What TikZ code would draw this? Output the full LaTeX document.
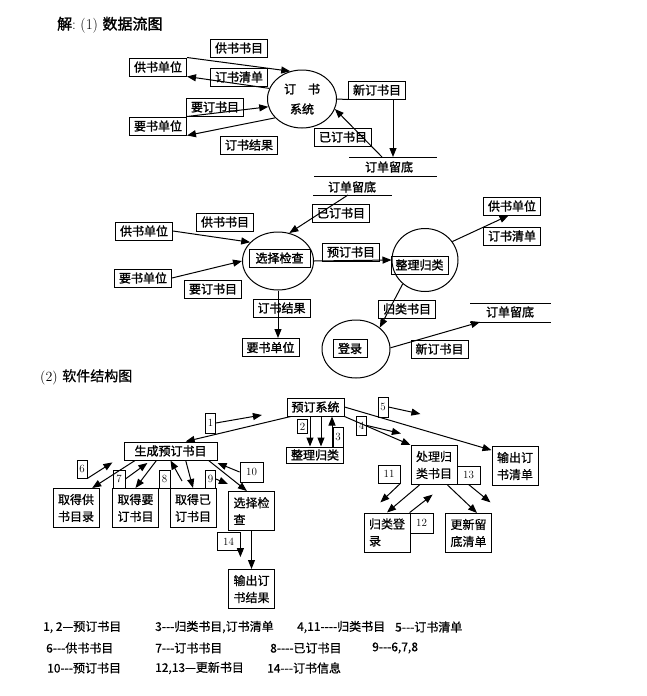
\documentclass[tikz,border=0pt]{standalone}
\usepackage{fontspec}
\newfontfamily\cjk{Noto Sans CJK SC}[RawFeature={embolden=1.6}]
\newfontfamily\cjklight{Noto Sans CJK SC}[RawFeature={embolden=0.6}]
\usetikzlibrary{shapes.geometric,arrows.meta}

\tikzset{
  box/.style={draw,line width=1pt,inner xsep=4.5pt,inner ysep=2pt,minimum height=18pt,font=\cjk\fontsize{12}{14}\selectfont},
  proc/.style={draw,ellipse,line width=1pt,inner sep=0pt,font=\cjk\fontsize{12}{20}\selectfont},
  modbox/.style={draw,line width=1pt,align=left,text width=36pt,inner xsep=5pt,inner ysep=2pt,minimum height=39pt,font=\cjklight\fontsize{12}{17}\selectfont},
  num/.style={draw,line width=0.8pt,inner sep=1pt,minimum width=10pt,minimum height=18pt,font=\fontsize{11}{12}\selectfont},
  flow/.style={line width=1pt,-{Triangle[length=9pt,width=7pt]}},
  storeline/.style={line width=1pt},
  storetext/.style={inner sep=1pt,font=\cjk\fontsize{12}{14}\selectfont},
  legend/.style={anchor=west,inner sep=0pt,font=\cjklight\fontsize{12}{14}\selectfont}
}

\begin{document}
\begin{tikzpicture}[x=1pt,y=-1pt]
\path[fill=white,use as bounding box] (0,0) rectangle (646,696);

\node[anchor=west,inner sep=0pt,font=\fontsize{15}{17}\selectfont] (t1) at (57,25) {{\cjk 解}:\ (1)\ {\cjk 数据流图}};

\node[box] (s1) at (239,48) {供书书目};
\node[box] (u1) at (158,67) {供书单位};
\node[box] (q1) at (239,77) {订书清单};
\node[proc,minimum width=69pt,minimum height=58pt,align=center] (p1) at (302,99) {订\hspace{1em}书\\系统};
\node[box] (n1) at (377,90) {新订书目};
\node[box] (y1) at (215,107) {要订书目};
\node[box] (r1) at (158,126) {要书单位};
\node[box] (j1) at (249,145) {订书结果};
\node[box] (k1) at (343,137) {已订书目};
\node[storetext] (st1) at (389,167) {订单留底};
\draw[storeline] (349,157) -- (437,157) (314,176) -- (437,176);
\coordinate (st1in) at (393,157);
\coordinate (st1out) at (382,157);

\draw[flow] (u1.north east) -- (p1.113);
\draw[flow] (p1.162) -- (u1.south east);
\draw[flow] (r1.north east) -- (p1.193);
\draw[flow] (p1.215) -- (r1.south east);
\draw[line width=1pt] (p1.east) -- (n1.south west);
\draw[flow] (n1.south -| st1in) -- (st1in);
\draw[flow] (st1out) -- (p1.343);

\node[storetext] (st2) at (352,187) {订单留底};
\draw[storeline] (313,195) -- (392,195);
\coordinate (st2out) at (348,195);
\node[box] (k2) at (341,213) {已订书目};
\node[proc,minimum width=71pt,minimum height=58pt] (p2) at (278,261) {};
\node[box,minimum width=61pt] (p2t) at (279.5,258) {选择检查};
\node[box] (u2) at (144,231) {供书单位};
\node[box] (s2) at (225,222) {供书书目};
\node[box] (r2) at (143,278) {要书单位};
\node[box] (y2) at (213,289) {要订书目};
\node[box] (b2) at (351,252) {预订书目};
\node[proc,minimum width=66pt,minimum height=63pt] (p3) at (425,260) {};
\node[box,minimum width=55pt] (p3t) at (419.5,265) {整理归类};
\node[box] (u3) at (512,206) {供书单位};
\node[box] (q3) at (512,236) {订书清单};
\node[box] (j2) at (281.5,308) {订书结果};
\node[box] (r4) at (270.5,347.5) {要书单位};
\node[box] (g2) at (407,309) {归类书目};
\node[proc,minimum width=68pt,minimum height=58pt] (p4) at (356,349) {};
\node[box,minimum width=34pt] (p4t) at (350,348.5) {登录};
\node[storetext] (st3) at (510,312) {订单留底};
\draw[storeline] (470,303) -- (551,303) (470,322) -- (551,322);
\coordinate (st3in) at (480,322);
\node[box] (n4) at (439.5,349) {新订书目};

\draw[flow] (st2out) -- (p2.68);
\draw[flow] (u2.east) -- (p2.146);
\draw[flow] (r2.east) -- (p2.west);
\draw[flow] (p2.east) -- (p3.west);
\draw[flow] (p3.34) -- (u3.250);
\draw[flow] (p2.south) -- (p2.south |- r4.north);
\draw[flow] (p3.227) -- (p4.42);
\draw[flow] (p4.2) -- (st3in);

\node[anchor=west,inner sep=0pt,font=\fontsize{14}{16}\selectfont] (t2) at (40,377) {(2)\ {\cjklight 软件结构图}};

\node[box] (m0) at (315.5,407) {预订系统};
\node[box,minimum height=16pt] (m1) at (315,455) {整理归类};
\node[num,minimum height=14pt] (l2) at (302.5,426.5) {2};
\node[num,minimum height=20pt] (l3) at (338,437) {3};
\node[box,minimum width=93pt] (m2) at (170.5,451) {生成预订书目};
\node[num,minimum height=20pt] (l1) at (210.5,423) {1};
\node[num,minimum height=20pt] (l5) at (383,407) {5};
\node[num,minimum height=19pt] (l4) at (361.5,425.5) {4};
\node[modbox] (m3) at (515,466) {输出订\\书清单};
\node[modbox] (m4) at (434,465) {处理归\\类书目};
\node[num,minimum width=23pt] (l13) at (468.5,475) {13};
\node[num,minimum width=22pt] (l11) at (389,474) {11};
\node[modbox] (m5) at (387,532.5) {归类登\\录};
\node[num,minimum width=23pt,minimum height=20pt] (l12) at (421.5,523) {12};
\node[modbox] (m6) at (468.5,533) {更新留\\底清单};

\node[modbox] (c1) at (76,508) {取得供\\书目录};
\node[modbox] (c2) at (135.5,508) {取得要\\订书目};
\node[modbox] (c3) at (193,508) {取得已\\订书目};
\node[modbox] (c4) at (251.5,511) {选择检\\查};
\node[modbox] (c5) at (251.5,589) {输出订\\书结果};
\node[num] (l6) at (82,469) {6};
\node[num,minimum width=12pt] (l7) at (119,479) {7};
\node[num,minimum width=11pt] (l8) at (164.5,479) {8};
\node[num] (l9) at (210.5,479) {9};
\node[num,minimum width=23pt,minimum height=20pt] (l10) at (251.5,472) {10};
\node[num,minimum width=23pt] (l14) at (228.5,541.5) {14};
\coordinate (a8) at (182,481);

\draw[flow] (m0.201) -- (m2.32);
\draw[flow] (l1.east) -- ++(46,-8);
\draw[flow] (l5.east) -- ++(32,7);
\draw[flow] (m0.east) -- (m3.146);
\draw[flow] (m0.south east) -- (m4.north west);
\draw[flow] (l4.east) -- ++(34,8);
\draw[flow] ([xshift=-5.5pt]m0.south) -- ([xshift=-5pt]m1.north);
\draw[flow] ([xshift=5.5pt]m0.south) -- ([xshift=6pt]m1.north);
\draw[flow] ([xshift=17pt]m1.north) -- ([xshift=16.5pt]m0.south);
\draw[flow] (m4.234) -- (m5.north);
\draw[flow] (m4.304) -- (m6.67);
\draw[flow] (l11.south east) -- ++(-20,19);
\draw[flow] (l12.north west) -- ++(23,-18);
\draw[flow] (l13.south) -- ++(22,18);

\draw[flow] (m2.195) -- (c1.51);
\draw[flow] (l6.south east) -- ++(25,-16);
\draw[flow] (m2.214) -- (c2.north);
\draw[flow] (l7.east) -- ++(22,-16);
\draw[flow] (m2.328) -- (c3.north);
\draw[flow] (a8) -- (m2.south);
\draw[flow] (l9.east) -- ++(12,5);
\draw[flow] (m2.346) -- (c4.103);
\draw[flow] (l10.west) -- ++(-22,-9);
\draw[flow] (c4.south) -- (c5.north);
\draw[flow] (l14.north east) -- ++(0,25);

\node[legend] (g1) at (43,627) {1, 2—预订书目};
\node[legend] (g2) at (155,627) {3---归类书目,订书清单};
\node[legend] (g3) at (297,627) {4,11----归类书目};
\node[legend] (g4) at (395,627) {5---订书清单};
\node[legend] (g5) at (46,648) {6---供书书目};
\node[legend] (g6) at (155,648) {7---订书书目};
\node[legend] (g7) at (270,648) {8----已订书目};
\node[legend] (g8) at (372,648) {9---6,7,8};
\node[legend] (g9) at (47,668) {10---预订书目};
\node[legend] (g10) at (155,668) {12,13—更新书目};
\node[legend] (g11) at (267,668) {14---订书信息};
\end{tikzpicture}
\end{document}
